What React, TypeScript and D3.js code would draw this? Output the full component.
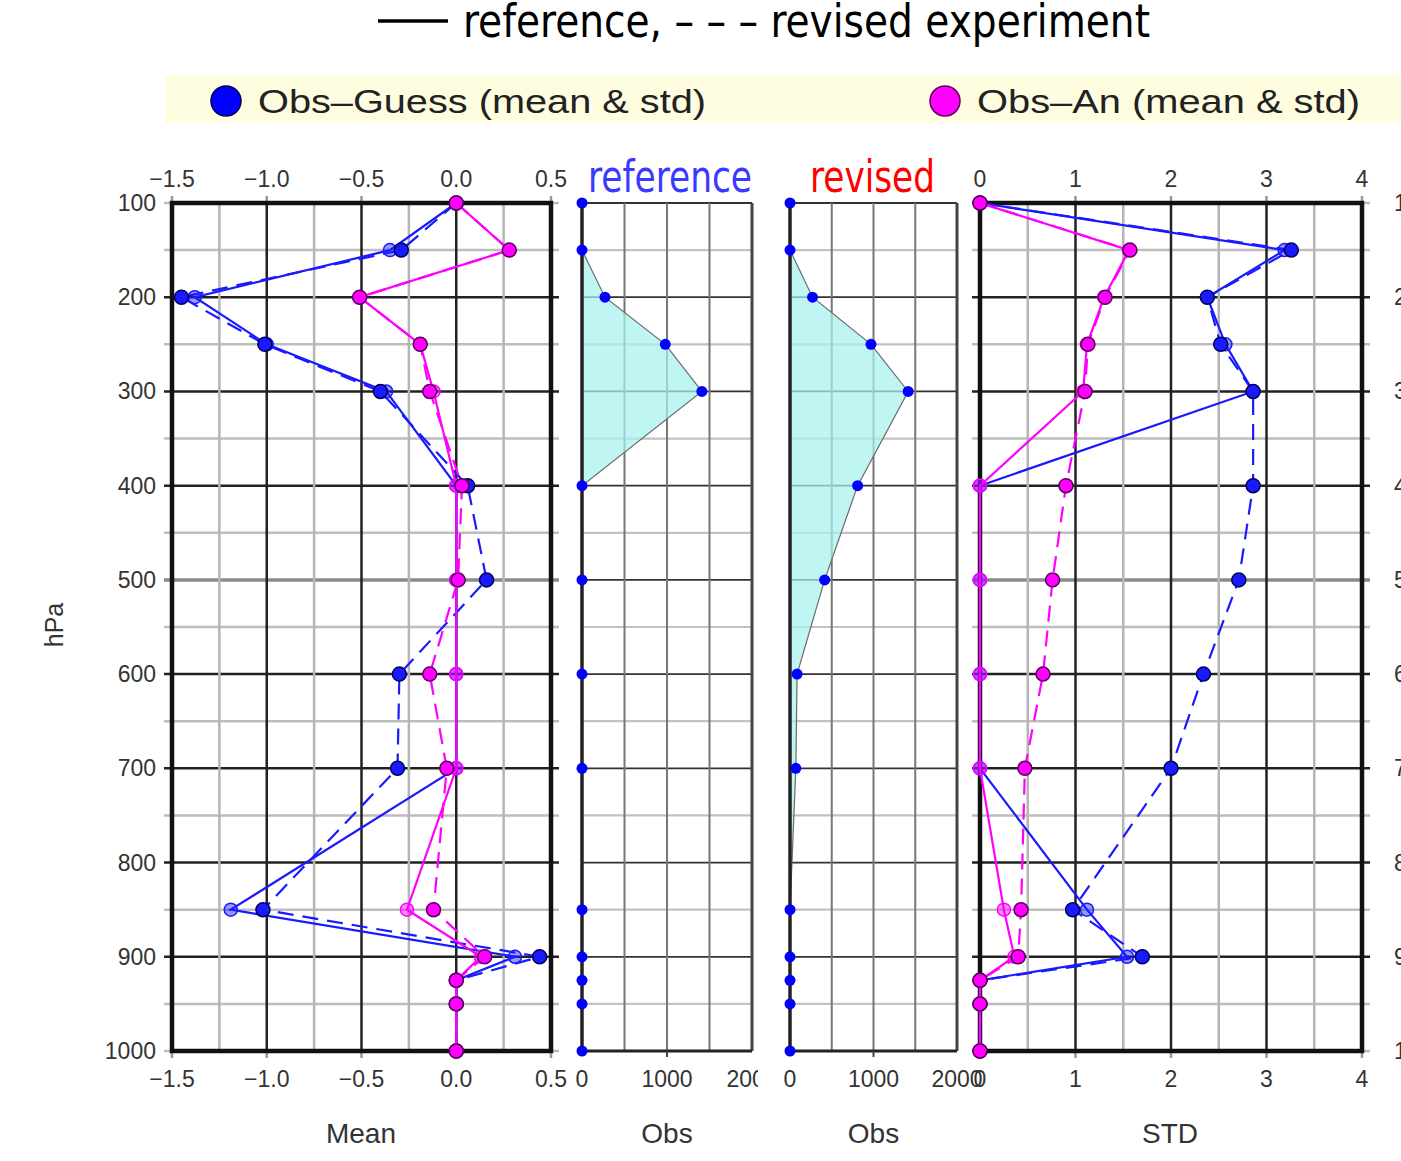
import React from "react";
import * as d3 from "d3";

// pressure levels (hPa)
const levels = [100, 150, 200, 250, 300, 400, 500, 600, 700, 850, 900, 925, 950, 1000];

// Obs-Guess / Obs-An mean, reference (solid) and revised (dashed)
const meanGuessRef = [0, -0.35, -1.38, -1.0, -0.37, 0, 0, 0, 0, -1.19, 0.31, 0, 0, 0];
const meanGuessRev = [0, -0.29, -1.45, -1.01, -0.4, 0.06, 0.16, -0.3, -0.31, -1.02, 0.44, 0, 0, 0];
const meanAnRef = [0, 0.28, -0.51, -0.19, -0.12, 0, 0, 0, 0, -0.26, 0.13, 0, 0, 0];
const meanAnRev = [0, 0.28, -0.51, -0.19, -0.14, 0.03, 0.01, -0.14, -0.05, -0.12, 0.15, 0, 0, 0];

// observation counts
const obsRef = [0, 0, 270, 980, 1410, 0, 0, 0, 0, 0, 0, 0, 0, 0];
const obsRev = [0, 0, 270, 970, 1415, 810, 415, 85, 70, 0, 0, 0, 0, 0];

// standard deviations
const stdGuessRef = [0, 3.19, 2.38, 2.57, 2.86, 0, 0, 0, 0, 1.12, 1.54, 0, 0, 0];
const stdGuessRev = [0, 3.26, 2.38, 2.52, 2.86, 2.86, 2.71, 2.34, 2.0, 0.97, 1.7, 0, 0, 0];
const stdAnRef = [0, 1.56, 1.3, 1.12, 1.08, 0, 0, 0, 0, 0.25, 0.36, 0, 0, 0];
const stdAnRev = [0, 1.57, 1.31, 1.13, 1.1, 0.9, 0.76, 0.66, 0.47, 0.43, 0.4, 0, 0, 0];

// tick labels
const pressureTicks = [100, 200, 300, 400, 500, 600, 700, 800, 900, 1000];
const meanTicks = [-1.5, -1.0, -0.5, 0.0, 0.5];
const obsTicks = [0, 1000, 2000];
const stdTicks = [0, 1, 2, 3, 4];

const W = 1401;
const H = 1161;
const BLUE = "#1a1aff";
const MAGENTA = "#ff00ff";
const SANS = "'Liberation Sans', Arial, Helvetica, sans-serif";
const NARROW = "'Liberation Sans Narrow', 'DejaVu Sans Condensed', 'Liberation Sans', sans-serif";

const y = d3.scaleLinear().domain([100, 1000]).range([203, 1051]);
const xMean = d3.scaleLinear().domain([-1.5, 0.5]).range([172, 551]);
const xObsRef = d3.scaleLinear().domain([0, 2000]).range([582, 752]);
const xObsRev = d3.scaleLinear().domain([0, 2000]).range([790, 957]);
const xStd = d3.scaleLinear().domain([0, 4]).range([980, 1362]);

const fmt1 = d3.format(".1f");
const pGrid = d3.range(100, 1001, 50);

// grid of a Mean / STD panel: minor lines every half major step
function BoxGrid({ x, step }: { x: d3.ScaleLinear<number, number>; step: number }) {
  const [d0, d1] = x.domain();
  const n = Math.round((d1 - d0) / (step / 2));
  const xs = d3.range(0, n + 1).map((i) => d0 + (i * step) / 2);
  const [r0, r1] = x.range();
  return (
    <g>
      {pGrid.map((p) => {
        const major = p % 100 === 0;
        const border = p === 100 || p === 1000;
        let stroke = major ? "#222" : "#bdbdbd";
        if (p === 500) stroke = "#8a8a8a";
        return (
          <line
            key={"h" + p}
            x1={r0 - 8}
            x2={r1 + 8}
            y1={y(p)}
            y2={y(p)}
            stroke={border ? "#bbb" : stroke}
            strokeWidth={p === 500 ? 3.5 : 2.5}
          />
        );
      })}
      {xs.map((v, i) => {
        if (i === 0 || i === n) return null;
        return (
          <line
            key={"v" + i}
            x1={x(v)}
            x2={x(v)}
            y1={y(100)}
            y2={y(1000)}
            stroke={i % 2 === 0 ? "#222" : "#b5b5b5"}
            strokeWidth={2.5}
          />
        );
      })}
      {xs.map((v, i) =>
        i % 2 === 0 ? (
          <g key={"t" + i}>
            <line x1={x(v)} x2={x(v)} y1={y(100) - 7} y2={y(100)} stroke="#999" strokeWidth={2.5} />
            <line x1={x(v)} x2={x(v)} y1={y(1000)} y2={y(1000) + 7} stroke="#999" strokeWidth={2.5} />
          </g>
        ) : null
      )}
      <rect
        x={r0}
        y={y(100)}
        width={r1 - r0}
        height={y(1000) - y(100)}
        fill="none"
        stroke="#111"
        strokeWidth={4.5}
      />
    </g>
  );
}

function ObsPanel({ x, values }: { x: d3.ScaleLinear<number, number>; values: number[] }) {
  const [r0, r1] = x.range();
  const area = d3
    .area<number>()
    .x0(x(0))
    .x1((v) => x(v))
    .y((_, i) => y(levels[i]));
  return (
    <g>
      {pGrid.map((p) => (
        <line
          key={"h" + p}
          x1={r0}
          x2={r1}
          y1={y(p)}
          y2={y(p)}
          stroke={p % 100 === 0 ? "#333" : "#c2c2c2"}
          strokeWidth={p % 100 === 0 ? 1.8 : 2.2}
        />
      ))}
      {[500, 1000, 1500].map((v) => (
        <line key={"v" + v} x1={x(v)} x2={x(v)} y1={y(100)} y2={y(1000)} stroke="#777" strokeWidth={2} />
      ))}
      <line x1={r1} x2={r1} y1={y(100)} y2={y(1000)} stroke="#444" strokeWidth={3} />
      <line x1={r0} x2={r1} y1={y(1000)} y2={y(1000)} stroke="#222" strokeWidth={3} />
      <line x1={x(1000)} x2={x(1000)} y1={y(1000)} y2={y(1000) + 6} stroke="#444" strokeWidth={2} />
      <path d={area(values) || ""} fill="#a6f3ef" fillOpacity={0.72} stroke="#6a6a6a" strokeWidth={1.2} />
      <line x1={r0} x2={r0} y1={y(100)} y2={y(1000)} stroke="#222" strokeWidth={3.5} />
      {values.map((v, i) => (
        <circle key={i} cx={x(v)} cy={y(levels[i])} r={5.5} fill="#0000ff" />
      ))}
    </g>
  );
}

function Profile({
  x,
  values,
  color,
  dark,
  dashed,
}: {
  x: d3.ScaleLinear<number, number>;
  values: number[];
  color: string;
  dark: string;
  dashed: boolean;
}) {
  const line = d3
    .line<number>()
    .x((v) => x(v))
    .y((_, i) => y(levels[i]));
  return (
    <g>
      <path
        d={line(values) || ""}
        fill="none"
        stroke={color}
        strokeWidth={2.2}
        strokeDasharray={dashed ? "16 9" : undefined}
      />
      {values.map((v, i) =>
        dashed ? (
          <circle key={i} cx={x(v)} cy={y(levels[i])} r={7} fill={color} stroke={dark} strokeWidth={1.5} />
        ) : (
          <circle
            key={i}
            cx={x(v)}
            cy={y(levels[i])}
            r={6.5}
            fill={color}
            fillOpacity={0.45}
            stroke={color}
            strokeWidth={1.5}
          />
        )
      )}
    </g>
  );
}

export default function App() {
  return (
    <div style={{ position: "absolute", left: 0, top: 0 }}>
      <svg width={W} height={H} style={{ display: "block", background: "#fff" }}>
        <defs>
          <clipPath id="clipObsRef">
            <rect x={560} y={1050} width={198} height={60} />
          </clipPath>
        </defs>

        {/* title */}
        <line x1={378} x2={448} y1={21} y2={21} stroke="#000" strokeWidth={3.5} />
        <text x={463} y={37} fontFamily={NARROW} fontSize={46} textLength={687} lengthAdjust="spacingAndGlyphs">
          reference, – – – revised experiment
        </text>

        {/* legend */}
        <rect x={165} y={75} width={W - 165} height={48} fill="#fffde0" />
        <circle cx={226} cy={101} r={15} fill="#0000ff" stroke="#00005a" strokeWidth={1.5} />
        <text x={258} y={113} fontFamily={SANS} fontSize={33} fill="#222" textLength={448} lengthAdjust="spacingAndGlyphs">
          Obs–Guess (mean &amp; std)
        </text>
        <circle cx={945} cy={101} r={15} fill={MAGENTA} stroke="#5a005a" strokeWidth={1.5} />
        <text x={977} y={113} fontFamily={SANS} fontSize={33} fill="#222" textLength={383} lengthAdjust="spacingAndGlyphs">
          Obs–An (mean &amp; std)
        </text>

        {/* panel titles */}
        <text x={588} y={192} fontFamily={NARROW} fontSize={45} fill="#3a3aff" textLength={164} lengthAdjust="spacingAndGlyphs">
          reference
        </text>
        <text x={810} y={192} fontFamily={NARROW} fontSize={45} fill="#ff0000" textLength={125} lengthAdjust="spacingAndGlyphs">
          revised
        </text>

        {/* Mean panel */}
        <BoxGrid x={xMean} step={0.5} />
        <Profile x={xMean} values={meanGuessRef} color={BLUE} dark="#00005a" dashed={false} />
        <Profile x={xMean} values={meanGuessRev} color={BLUE} dark="#00005a" dashed={true} />
        <Profile x={xMean} values={meanAnRef} color={MAGENTA} dark="#5a005a" dashed={false} />
        <Profile x={xMean} values={meanAnRev} color={MAGENTA} dark="#5a005a" dashed={true} />

        {/* Obs panels */}
        <ObsPanel x={xObsRef} values={obsRef} />
        <ObsPanel x={xObsRev} values={obsRev} />

        {/* STD panel */}
        <BoxGrid x={xStd} step={1} />
        <Profile x={xStd} values={stdGuessRef} color={BLUE} dark="#00005a" dashed={false} />
        <Profile x={xStd} values={stdGuessRev} color={BLUE} dark="#00005a" dashed={true} />
        <Profile x={xStd} values={stdAnRef} color={MAGENTA} dark="#5a005a" dashed={false} />
        <Profile x={xStd} values={stdAnRev} color={MAGENTA} dark="#5a005a" dashed={true} />

        {/* tick labels */}
        <g fontFamily={SANS} fontSize={23} fill="#333">
          {meanTicks.map((v) => (
            <g key={"m" + v}>
              <text x={xMean(v)} y={187} textAnchor="middle">{fmt1(v)}</text>
              <text x={xMean(v)} y={1087} textAnchor="middle">{fmt1(v)}</text>
            </g>
          ))}
          {stdTicks.map((v) => (
            <g key={"s" + v}>
              <text x={xStd(v)} y={187} textAnchor="middle">{v}</text>
              <text x={xStd(v)} y={1087} textAnchor="middle">{v}</text>
            </g>
          ))}
          <g clipPath="url(#clipObsRef)">
            {obsTicks.map((v) => (
              <text key={"or" + v} x={xObsRef(v)} y={1087} textAnchor="middle">{v}</text>
            ))}
          </g>
          {obsTicks.map((v) => (
            <text key={"ov" + v} x={xObsRev(v)} y={1087} textAnchor="middle">{v}</text>
          ))}
          {pressureTicks.map((p) => (
            <g key={"p" + p}>
              <text x={156} y={y(p) + 8} textAnchor="end">{p}</text>
              <text x={1394} y={y(p) + 8} textAnchor="start">{p}</text>
            </g>
          ))}
        </g>

        {/* axis names */}
        <g fontFamily={SANS} fontSize={28} fill="#333" textAnchor="middle">
          <text x={361} y={1143}>Mean</text>
          <text x={(xObsRef(0) + xObsRef(2000)) / 2} y={1143}>Obs</text>
          <text x={(xObsRev(0) + xObsRev(2000)) / 2} y={1143}>Obs</text>
          <text x={1170} y={1143}>STD</text>
          <text transform="translate(63,625) rotate(-90)" fontSize={25}>hPa</text>
        </g>
      </svg>
    </div>
  );
}
